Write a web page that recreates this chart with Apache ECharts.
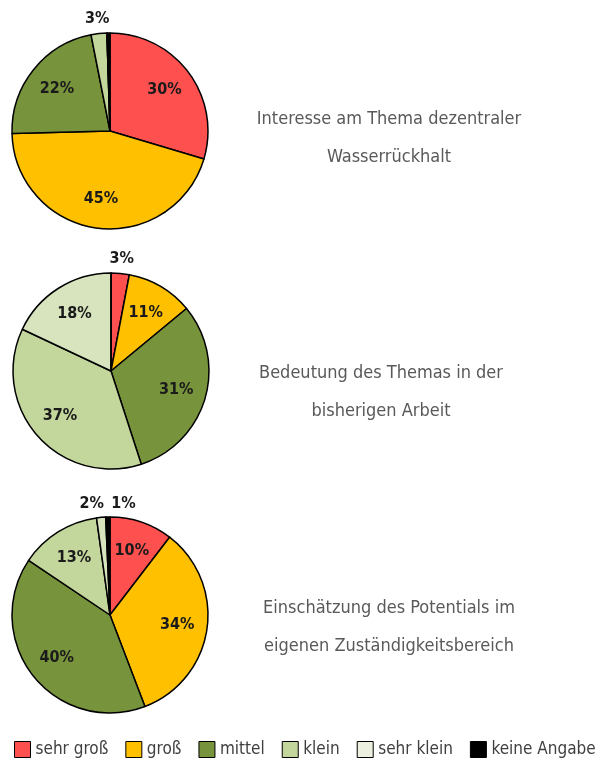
<!DOCTYPE html>
<html><head><meta charset="utf-8">
<script src="https://cdn.jsdelivr.net/npm/echarts@6/dist/echarts.min.js"></script>
<style>html,body{margin:0;padding:0;background:#fff}#c{width:599px;height:761px}</style>
</head><body><div id="c"></div>
<script>
const categories = ['sehr groß', 'groß', 'mittel', 'klein', 'sehr klein', 'keine Angabe'];
const colors = ['#FF5050', '#FFC000', '#77933C', '#C3D69B', '#D7E4BD', '#000000'];
const legendColors = ['#FF5050', '#FFC000', '#77933C', '#C3D69B', '#EBF1DE', '#000000'];
const valuesInteresse = [29.6, 45.0, 22.3, 2.6, 0, 0.5];
const valuesBedeutung = [3, 11, 31, 37, 18, 0];
const valuesPotential = [10.4, 33.8, 40.2, 13.4, 1.5, 0.7];
const titles = [
  'Interesse am Thema dezentraler\nWasserrückhalt',
  'Bedeutung des Themas in der\nbisherigen Arbeit',
  'Einschätzung des Potentials im\neigenen Zuständigkeitsbereich'
];
const allValues = [valuesInteresse, valuesBedeutung, valuesPotential];

const FONT = '"Liberation Sans Narrow", "DejaVu Sans Condensed", "Open Sans", sans-serif';
const centers = [[110, 131], [111, 371], [110, 615]];
const titleTops = [95, 349, 584];
const titleLefts = [384, 376, 384];
const R = 98;

function mkData(vals) {
  return categories.map((n, i) => ({ name: n, value: vals[i], itemStyle: { color: colors[i] } }));
}
const pct = p => Math.round(p.percent) + '%';

const series = [];
const title = [];
allValues.forEach((vals, k) => {
  series.push({
    type: 'pie', center: centers[k], radius: R, startAngle: 90, clockwise: true,
    data: mkData(vals), label: { show: false }, labelLine: { show: false },
    itemStyle: { borderColor: '#000', borderWidth: 1.5 }, emphasis: { disabled: true },
    animation: false
  });
  // inner labels
  series.push({
    type: 'pie', center: centers[k], radius: [32, R], startAngle: 90, clockwise: true, silent: true,
    data: mkData(vals).map(d => Object.assign(d, { itemStyle: { color: 'rgba(0,0,0,0)', borderWidth: 0 } })),
    label: {
      show: true, position: 'inside', fontFamily: FONT, fontWeight: 'bold', fontSize: 16, color: '#1a1a1a',
      formatter: p => p.percent >= 5 ? pct(p) : ''
    },
    labelLine: { show: false }, emphasis: { disabled: true }, animation: false, legendHoverLink: false
  });
  // outer labels for small slices
  series.push({
    type: 'pie', center: centers[k], radius: [R + 2, R + 22], startAngle: 90, clockwise: true, silent: true,
    data: mkData(vals).map((d, i) => {
      const o = Object.assign(d, { itemStyle: { color: 'rgba(0,0,0,0)', borderWidth: 0 } });
      if (k === 2 && i === 5) o.label = { offset: [16, 2] };
      if (k === 2 && i === 4) o.label = { offset: [-8, 1] };
      return o;
    }),
    label: {
      show: true, position: 'inside', fontFamily: FONT, fontWeight: 'bold', fontSize: 16, color: '#1a1a1a',
      formatter: p => (p.percent < 5 && p.percent >= 0.6) ? pct(p) : ''
    },
    labelLine: { show: false }, emphasis: { disabled: true }, animation: false, legendHoverLink: false
  });
  title.push({
    text: titles[k], left: titleLefts[k], top: titleTops[k], textAlign: 'center',
    textStyle: { fontFamily: FONT, fontWeight: 'normal', fontSize: 18, color: '#595959', lineHeight: 38 }
  });
});

const chart = echarts.init(document.getElementById('c'), null, { renderer: 'canvas' });
chart.setOption({
  animation: false,
  title: title,
  legend: {
    data: categories.map((n, i) => ({ name: n, itemStyle: { color: legendColors[i] } })),
    bottom: 3, left: 14, right: 0, padding: 0, icon: 'rect', itemWidth: 16, itemHeight: 16, itemGap: 17,
    itemStyle: { borderColor: '#000', borderWidth: 1 },
    textStyle: { fontFamily: FONT, fontSize: 17, color: '#404040' }
  },
  series: series
});
</script></body></html>
